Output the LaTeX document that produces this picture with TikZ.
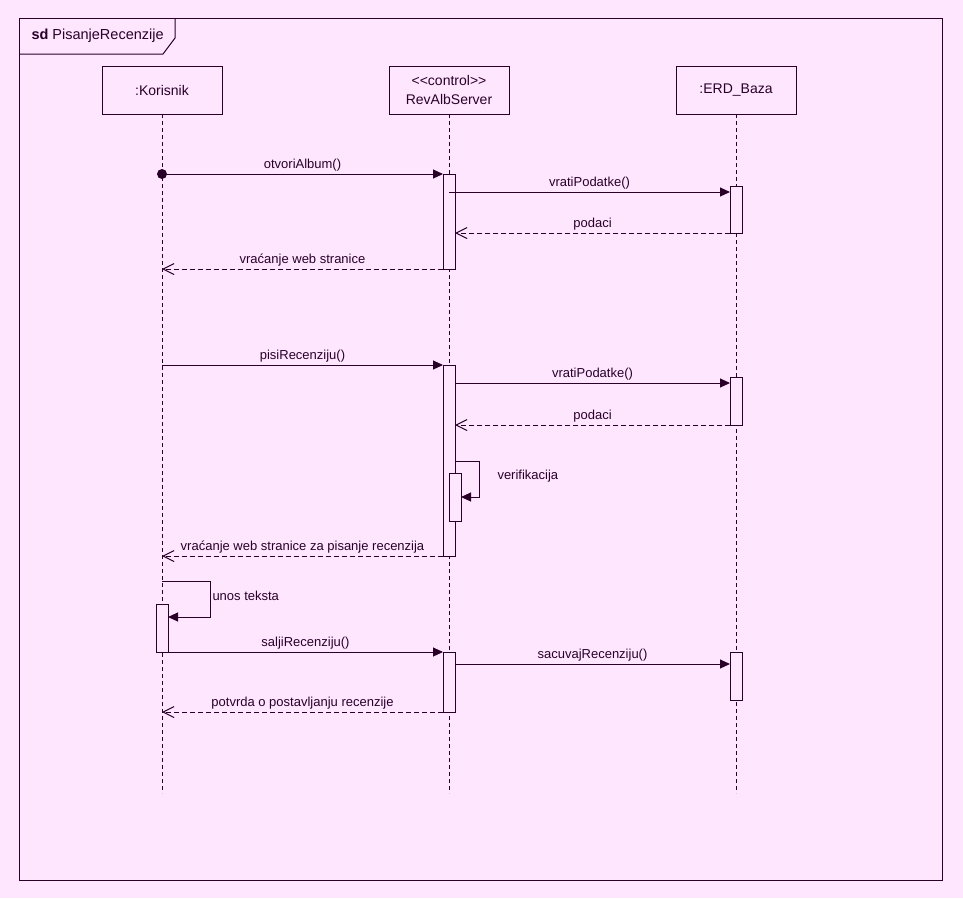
\documentclass[tikz,border=0pt]{standalone}
\usepackage{fontspec}
\setmainfont{Liberation Sans}
\usetikzlibrary{arrows.meta}
\definecolor{bg}{RGB}{255,230,255}
\definecolor{ink}{RGB}{40,0,40}
\begin{document}
\begin{tikzpicture}[x=1pt,y=-1pt,line width=1pt,color=ink,
  every node/.style={font=\fontsize{13}{19}\selectfont,text=ink},
  lifebox/.style={draw,fill=bg,minimum width=120pt,minimum height=48pt,inner sep=0pt,outer sep=0pt,anchor=north west,align=center,font=\fontsize{14}{19}\selectfont},
  lifeline/.style={dash pattern=on 4pt off 3pt},
  bar/.style={draw,fill=bg,minimum width=12pt,inner sep=0pt,outer sep=0pt,anchor=north west},
  call/.style={-{Triangle[length=10pt,width=9pt]}},
  reply/.style={dash pattern=on 5pt off 3pt,-{Straight Barb[length=11pt,width=11pt]}},
  lbl/.style={midway,above=1pt,inner sep=1.5pt}]
% canvas
\fill[bg] (0,0) rectangle (963,898);
\useasboundingbox (0,0) rectangle (963,898);
% sequence frame
\draw (19,18) rectangle (942,880);
\draw (19,54) -- (163,54) -- (175,38) -- (175,18);
\node[anchor=west,inner sep=0pt,font=\fontsize{14.5}{17}\selectfont] (title) at (31,36) {\textbf{sd} PisanjeRecenzije};
% participants
\node[lifebox] (K) at (102,66) {:Korisnik};
\node[lifebox] (S) at (389,66) {{<}{<}control{>}{>}\\RevAlbServer};
\node[lifebox] (E) at (676,66) {:ERD\_Baza};
\coordinate (Kend) at (162,793);
\coordinate (Send) at (449,793);
\coordinate (Eend) at (736,793);
\draw[lifeline] (K.south) -- (Kend);
\draw[lifeline] (S.south) -- (Send);
\draw[lifeline] (E.south) -- (Eend);
% activation bars
\node[bar,minimum height=95pt] (s1) at (443,174) {};
\node[bar,minimum height=47pt] (e1) at (730,186) {};
\node[bar,minimum height=191pt] (s2) at (443,365) {};
\node[bar,minimum height=48pt] (e2) at (730,377) {};
\node[bar,minimum height=48pt] (s3) at (449,473) {};
\node[bar,minimum height=48pt] (k1) at (156,604) {};
\node[bar,minimum height=60pt] (s4) at (443,652) {};
\node[bar,minimum height=48pt] (e3) at (730,652) {};
% opening the album
\coordinate (m1) at (162,174);
\fill (m1) circle (5);
\draw[call] (m1) -- (s1.north west) node[lbl] {otvoriAlbum()};
\coordinate (a2) at (449,192);
\draw[call] (a2) -- (e1.west |- a2) node[lbl] {vratiPodatke()};
\draw[reply] (e1.south west) -- (s1.east |- e1.south west) node[lbl] {podaci};
\draw[reply] (s1.south west) -- (K.south |- s1.south west) node[lbl] {vraćanje web stranice};
% writing the review
\draw[call] (K.south |- s2.north west) -- (s2.north west) node[lbl] {pisiRecenziju()};
\coordinate (a6) at (455,383);
\draw[call] (a6) -- (e2.west |- a6) node[lbl] {vratiPodatke()};
\draw[reply] (e2.south west) -- (s2.east |- e2.south west) node[lbl] {podaci};
\coordinate (v1) at (455,461);
\coordinate (v2) at (479,461);
\coordinate (v3) at (479,497);
\draw[call] (v1) -- (v2) -- (v3) -- (s3.east |- v3);
\node[anchor=west,inner sep=0pt] (vlbl) at (497,476) {verifikacija};
\draw[reply] (s2.south west) -- (K.south |- s2.south west) node[lbl] {vraćanje web stranice za pisanje recenzija};
% entering and sending the text
\coordinate (u1) at (162,581);
\coordinate (u2) at (210,581);
\coordinate (u3) at (210,617);
\draw[call] (u1) -- (u2) -- (u3) -- (k1.east |- u3);
\node[anchor=west,inner sep=0pt] (ulbl) at (212,596) {unos teksta};
\draw[call] (k1.south east) -- (s4.north west) node[lbl] {saljiRecenziju()};
\coordinate (a12) at (455,664);
\draw[call] (a12) -- (e3.west |- a12) node[lbl] {sacuvajRecenziju()};
\draw[reply] (s4.south west) -- (K.south |- s4.south west) node[lbl] {potvrda o postavljanju recenzije};
\end{tikzpicture}
\end{document}
